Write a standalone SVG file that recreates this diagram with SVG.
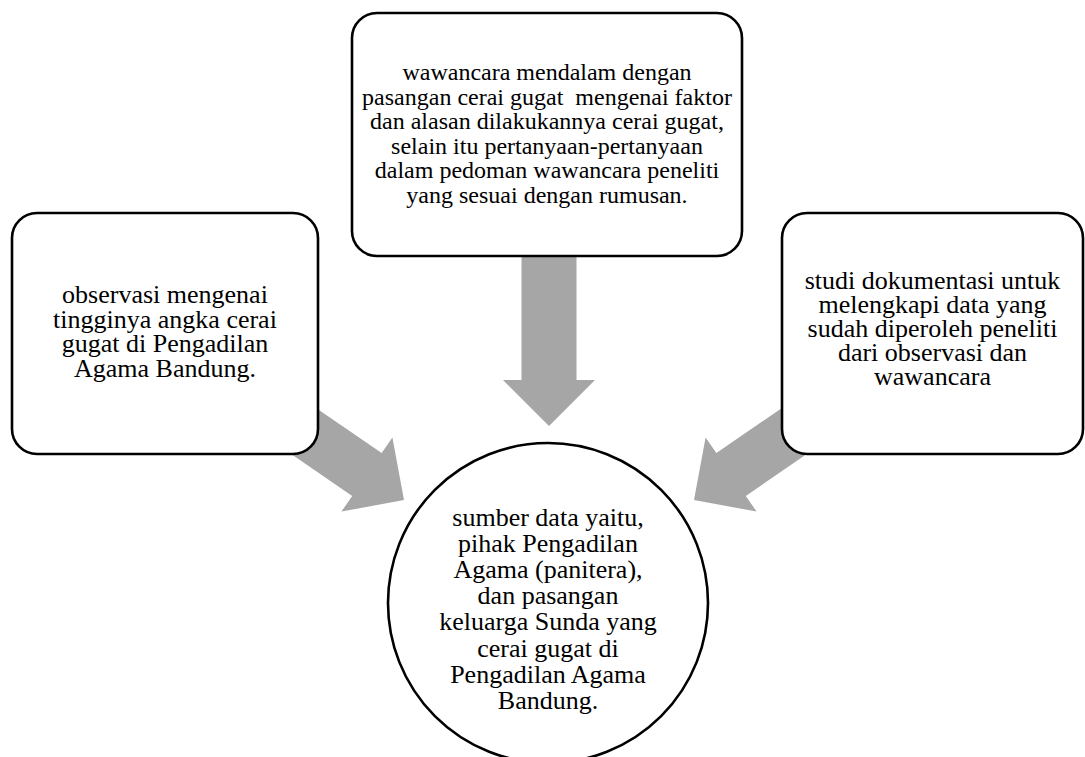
<svg xmlns="http://www.w3.org/2000/svg" width="1085" height="757" viewBox="0 0 1085 757">
<style>
.node{fill:#ffffff;stroke:#000000;stroke-width:2.6}
.arrow{fill:#a6a6a6;stroke:none}
text{font-family:"Liberation Serif","Times New Roman",serif;fill:#000000;text-anchor:middle}
.t24{font-size:24px}
.t26{font-size:26px}
</style>
<rect width="1085" height="757" fill="#ffffff"/>
<g id="connectors">
  <polygon class="arrow" transform="translate(404,500) rotate(34.5)" points="-160,-26 -45,-26 -45,-45 0,0 -45,45 -45,26 -160,26"/>
  <polygon class="arrow" transform="translate(549,426) rotate(90)" points="-190,-27.5 -46,-27.5 -46,-46 0,0 -46,46 -46,27.5 -190,27.5"/>
  <polygon class="arrow" transform="translate(694,500) rotate(145.5)" points="-160,-26 -45,-26 -45,-45 0,0 -45,45 -45,26 -160,26"/>
</g>
<g id="node-left">
  <rect class="node" x="12" y="213" width="306" height="241" rx="25" ry="25"/>
  <text class="t26"><tspan x="165" y="303">observasi mengenai</tspan><tspan x="165" y="328">tingginya angka cerai</tspan><tspan x="165" y="352">gugat di Pengadilan</tspan><tspan x="165" y="377">Agama Bandung.</tspan></text>
</g>
<g id="node-top">
  <rect class="node" x="352" y="13" width="390" height="243" rx="25" ry="25"/>
  <text class="t24"><tspan x="547" y="80">wawancara mendalam dengan</tspan><tspan x="547" y="104.6" xml:space="preserve">pasangan cerai gugat  mengenai faktor</tspan><tspan x="547" y="129.2">dan alasan dilakukannya cerai gugat,</tspan><tspan x="547" y="153.8">selain itu pertanyaan-pertanyaan</tspan><tspan x="547" y="178.4">dalam pedoman wawancara peneliti</tspan><tspan x="547" y="203">yang sesuai dengan rumusan.</tspan></text>
</g>
<g id="node-right">
  <rect class="node" x="782" y="213" width="301" height="241" rx="25" ry="25"/>
  <text class="t26"><tspan x="932.5" y="289">studi dokumentasi untuk</tspan><tspan x="932.5" y="313">melengkapi data yang</tspan><tspan x="932.5" y="337">sudah diperoleh peneliti</tspan><tspan x="932.5" y="361">dari observasi dan</tspan><tspan x="932.5" y="385">wawancara</tspan></text>
</g>
<g id="node-center">
  <circle class="node" cx="548" cy="603" r="160"/>
  <text class="t26"><tspan x="548" y="526">sumber data yaitu,</tspan><tspan x="548" y="552">pihak Pengadilan</tspan><tspan x="548" y="578">Agama (panitera),</tspan><tspan x="548" y="604">dan pasangan</tspan><tspan x="548" y="630">keluarga Sunda yang</tspan><tspan x="548" y="657">cerai gugat di</tspan><tspan x="548" y="683">Pengadilan Agama</tspan><tspan x="548" y="709">Bandung.</tspan></text>
</g>
</svg>
